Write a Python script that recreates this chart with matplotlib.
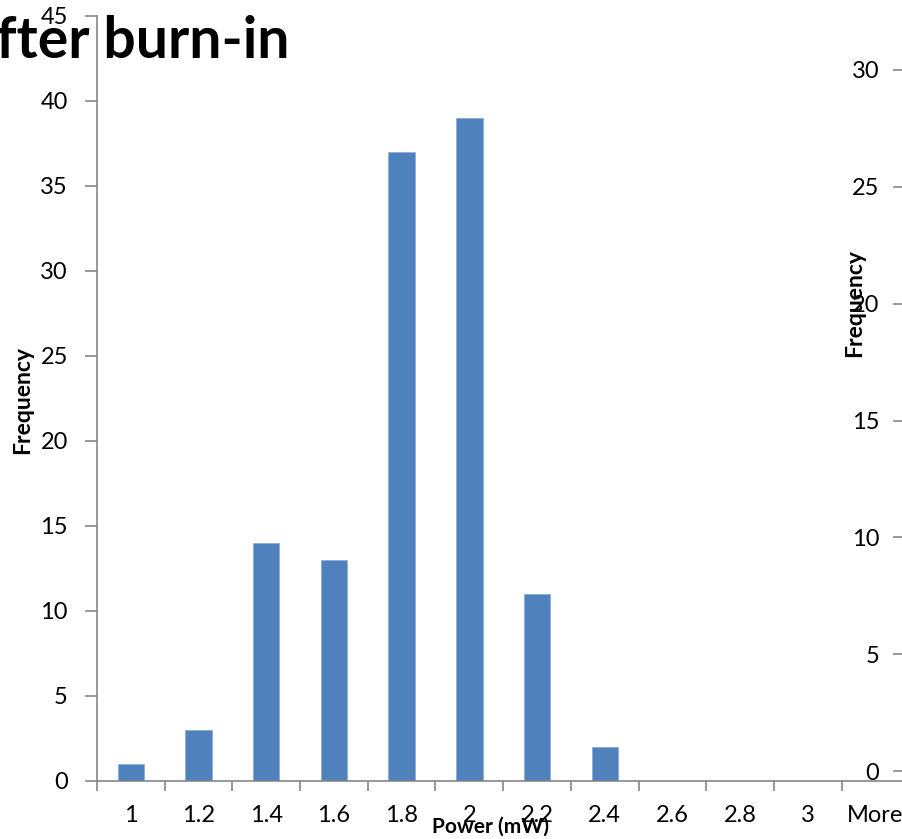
import matplotlib
matplotlib.use("Agg")
import matplotlib.pyplot as plt

# histogram of power after burn-in
bins = ["1", "1.2", "1.4", "1.6", "1.8", "2", "2.2", "2.4", "2.6", "2.8", "3", "More"]
counts = [1, 3, 14, 13, 37, 39, 11, 2, 0, 0, 0, 0]
left_ticks = [0, 5, 10, 15, 20, 25, 30, 35, 40, 45]
right_ticks = [0, 5, 10, 15, 20, 25, 30]

W, H = 903, 839
BAR = "#4F81BD"
AXIS = "#868686"
TICK_FS = 17

plt.rcParams["font.family"] = ["Lato", "DejaVu Sans"]

fig = plt.figure(figsize=(W / 100, H / 100), dpi=100)

# main axes, runs off the right edge of the figure
ax = fig.add_axes([97 / W, (H - 780.5) / H, 812.4 / W, 765 / H])
pos = list(range(len(bins)))
ax.bar(pos, counts, width=0.39, color=BAR, edgecolor="#8EAED8", linewidth=0.6)
ax.set_xlim(-0.5, len(bins) - 0.5)
ax.set_ylim(0, 45)

for s in ["top", "right"]:
    ax.spines[s].set_visible(False)
for s in ["left", "bottom"]:
    ax.spines[s].set_color(AXIS)
    ax.spines[s].set_linewidth(1.2)

ax.set_yticks(left_ticks)
ax.tick_params(axis="y", direction="out", length=9, width=1.2, color=AXIS,
               labelsize=TICK_FS, pad=12)

# tick marks on category boundaries, labels in the middle of each category
ax.set_xticks([p - 0.5 for p in pos] + [len(bins) - 0.5])
ax.set_xticklabels([])
ax.set_xticks(pos, minor=True)
ax.set_xticklabels(bins, minor=True)
ax.tick_params(axis="x", which="major", direction="out", length=7, width=1.2, color=AXIS)
ax.tick_params(axis="x", which="minor", length=0, labelsize=TICK_FS, pad=18)

# secondary axis sitting on the right edge
ax2 = fig.add_axes([1.0, (H - 771) / H, 0.01, 701 / H])
ax2.set_ylim(0, 30)
ax2.patch.set_visible(False)
for s in ax2.spines.values():
    s.set_visible(False)
ax2.set_xticks([])
ax2.set_yticks(right_ticks)
ax2.tick_params(axis="y", direction="out", length=7, width=1.2, color=AXIS,
                labelsize=TICK_FS, pad=10)

fig.text(290 / W, (H - 58) / H, "Power after burn-in", ha="right", va="baseline",
         fontsize=41, fontweight="bold")
fig.text(23 / W, (H - 400) / H, "Frequency", rotation=90, ha="center", va="center",
         fontsize=16.5, fontweight="bold")
fig.text(855 / W, (H - 303) / H, "Frequency", rotation=90, ha="center", va="center",
         fontsize=16.5, fontweight="bold")
fig.text(491 / W, (H - 827) / H, "Power (mW)", ha="center", va="center",
         fontsize=15, fontweight="bold")

fig.savefig("out.png", dpi=100)
